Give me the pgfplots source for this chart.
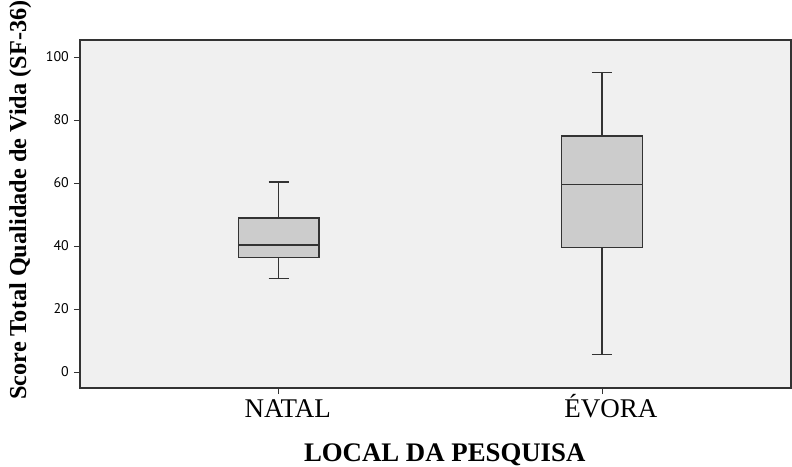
\documentclass[border=0pt]{standalone}
\usepackage{fontspec}
\setmainfont{Liberation Serif}
\newfontfamily\ptsans{PT Sans}
\usepackage{pgfplots}
\pgfplotsset{compat=1.18}
\usepgfplotslibrary{statistics}
\definecolor{bgc}{HTML}{F0F0F0}
\definecolor{boxc}{HTML}{CCCCCC}
\definecolor{edgec}{HTML}{333333}
\begin{document}
\begin{tikzpicture}
\begin{axis}[
  name=ax,
  scale only axis,
  width=711pt, height=348pt,
  xmin=0.385, xmax=2.585,
  ymin=-5.1, ymax=105.4,
  axis background/.style={fill=bgc},
  axis line style={edgec, line width=1.3pt},
  xtick={1,2},
  xticklabels={NATAL, ÉVORA},
  ytick={0,20,40,60,80,100},
  tick align=outside,
  tick pos=left,
  major tick length=6pt,
  x tick style={edgec, line width=0.8pt},
  y tick style={edgec, line width=0.8pt},
  /pgf/number format/assume math mode=true,
  yticklabel style={font=\ptsans\fontsize{14}{14}\selectfont, text=black, inner sep=1pt, xshift=-4pt},
  xticklabel style={font=\fontsize{27}{27}\selectfont, anchor=base, yshift=-23pt, xshift=9pt},
  xlabel={\textbf{LOCAL DA PESQUISA}},
  xlabel style={font=\fontsize{26.8}{26.8}\selectfont, at={(axis description cs:0.513,0)}, anchor=base, yshift=-73pt},
  ylabel={\textbf{Score Total Qualidade de Vida (SF-36)}},
  ylabel style={font=\fontsize{24.3}{24.3}\selectfont, at={(axis description cs:-0.084,0.54)}, anchor=center, rotate=0},
  boxplot/draw direction=y,
  boxplot/box extend=0.25,
  boxplot/whisker extend=0.062,
  boxplot/every box/.style={draw=edgec, line width=1.4pt, fill=boxc},
  boxplot/every whisker/.style={draw=edgec, line width=1.4pt},
  boxplot/every median/.style={draw=edgec, line width=1.4pt},
]
\addplot+[boxplot prepared={
    draw position=1,
    lower whisker=29.7, lower quartile=36.3, median=40.3,
    upper quartile=48.9, upper whisker=60.3},
  draw=edgec, line width=1.4pt, fill=boxc, solid, mark=none]
  coordinates {};
\addplot+[boxplot prepared={
    draw position=2,
    lower whisker=5.6, lower quartile=39.5, median=59.6,
    upper quartile=74.9, upper whisker=95.1},
  draw=edgec, line width=1.4pt, fill=boxc, solid, mark=none]
  coordinates {};
\end{axis}
\pgfresetboundingbox
\path (ax.south west) ++(-80pt,-78pt) rectangle ++(792pt,466pt);
\end{tikzpicture}
\end{document}
